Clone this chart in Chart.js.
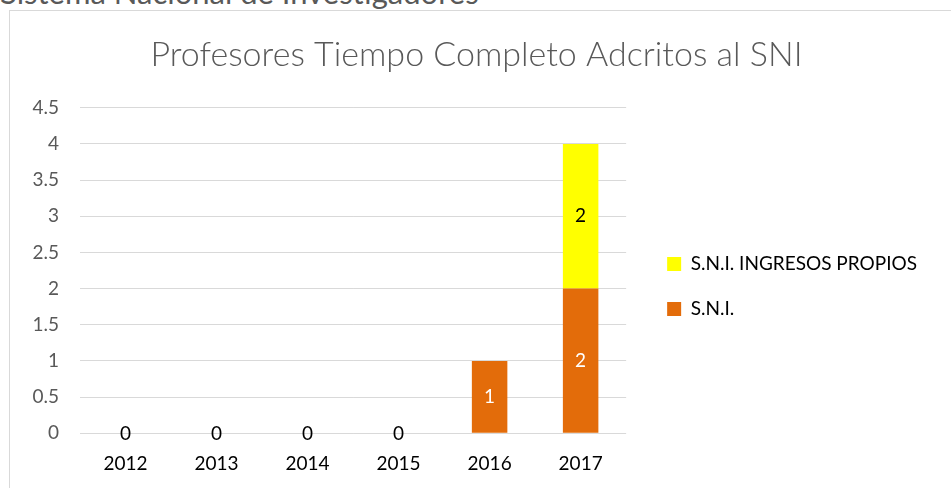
<!DOCTYPE html>
<html>
<head>
<meta charset="utf-8">
<script src="https://cdn.jsdelivr.net/npm/chart.js@4"></script>
<style>
  body { margin: 0; background: #fff; width: 951px; height: 488px; overflow: hidden; position: relative; font-family: Lato, "Open Sans", sans-serif; }
  #heading { position: absolute; left: 0; top: -26px; font-size: 31px; line-height: 1.2; color: #595959; white-space: nowrap; }
  #frame { position: absolute; left: 9px; top: 10px; width: 960px; height: 490px; border: 1px solid #d9d9d9; }
  #wrap { position: absolute; left: 10px; top: 11px; width: 941px; height: 483px; }
</style>
</head>
<body>
<div id="heading">Sistema Nacional de Investigadores</div>
<div id="frame"></div>
<div id="wrap"><canvas id="chart"></canvas></div>
<script>
const years = ['2012', '2013', '2014', '2015', '2016', '2017'];
const sni = [0, 0, 0, 0, 1, 2];
const sniIngresosPropios = [null, null, null, null, null, 2];
const yTicks = [0, 0.5, 1, 1.5, 2, 2.5, 3, 3.5, 4, 4.5];

const FONT = 'Lato, "Open Sans", sans-serif';

// value labels drawn inside each bar segment; zeros sit on the axis
const barLabels = {
    id: 'barLabels',
    afterDatasetsDraw(chart) {
        const ctx = chart.ctx;
        ctx.save();
        ctx.font = '19px ' + FONT;
        ctx.textAlign = 'center';
        ctx.textBaseline = 'middle';
        chart.data.datasets.forEach((ds, di) => {
            const meta = chart.getDatasetMeta(di);
            meta.data.forEach((bar, i) => {
                const v = ds.data[i];
                if (v == null) return;
                const y = v === 0 ? bar.y + 1 : (bar.y + bar.base) / 2;
                ctx.fillStyle = v === 0 ? '#000000' : ds.labelColor;
                ctx.fillText(String(v), bar.x, y);
            });
        });
        ctx.restore();
    }
};

new Chart(document.getElementById('chart'), {
    type: 'bar',
    data: {
        labels: years,
        datasets: [
            {
                label: 'S.N.I.',
                data: sni,
                backgroundColor: '#e36c0a',
                labelColor: '#ffffff',
                categoryPercentage: 1,
                barPercentage: 0.39
            },
            {
                label: 'S.N.I. INGRESOS PROPIOS',
                data: sniIngresosPropios,
                backgroundColor: '#ffff00',
                labelColor: '#000000',
                categoryPercentage: 1,
                barPercentage: 0.39
            }
        ]
    },
    options: {
        responsive: true,
        maintainAspectRatio: false,
        animation: false,
        layout: { padding: { top: 0, right: 24, left: 16, bottom: 0 } },
        scales: {
            x: {
                stacked: true,
                grid: { display: false, drawTicks: false },
                border: { display: false },
                ticks: { color: '#000000', font: { family: FONT, size: 19 }, padding: 19 }
            },
            y: {
                stacked: true,
                min: 0,
                max: 4.5,
                afterBuildTicks: (axis) => { axis.ticks = yTicks.map(v => ({ value: v })); },
                afterFit: (axis) => { axis.width = 54; },
                grid: { color: '#d9d9d9', lineWidth: 1, drawTicks: false },
                border: { display: false },
                ticks: { color: '#595959', font: { family: FONT, size: 19 }, padding: 21, callback: (v) => String(v) }
            },
            // empty spacer between plot and legend
            gap: {
                type: 'linear',
                position: 'right',
                grid: { display: false },
                border: { display: false },
                ticks: { display: false },
                afterFit: (axis) => { axis.width = 15; }
            }
        },
        plugins: {
            title: {
                display: true,
                text: 'Profesores Tiempo Completo Adcritos al SNI',
                color: '#595959',
                font: { family: FONT, size: 34, weight: 300 },
                padding: { top: 24, bottom: 32 }
            },
            legend: {
                position: 'right',
                reverse: true,
                maxWidth: 400,
                // blank title only pushes the entries down
                title: { display: true, text: ' ', font: { size: 1 }, padding: { top: 67, bottom: 0 } },
                labels: {
                    color: '#000000',
                    font: { family: FONT, size: 19 },
                    boxWidth: 14,
                    boxHeight: 14,
                    padding: 26
                }
            },
            tooltip: { enabled: false }
        }
    },
    plugins: [barLabels]
});
</script>
</body>
</html>
